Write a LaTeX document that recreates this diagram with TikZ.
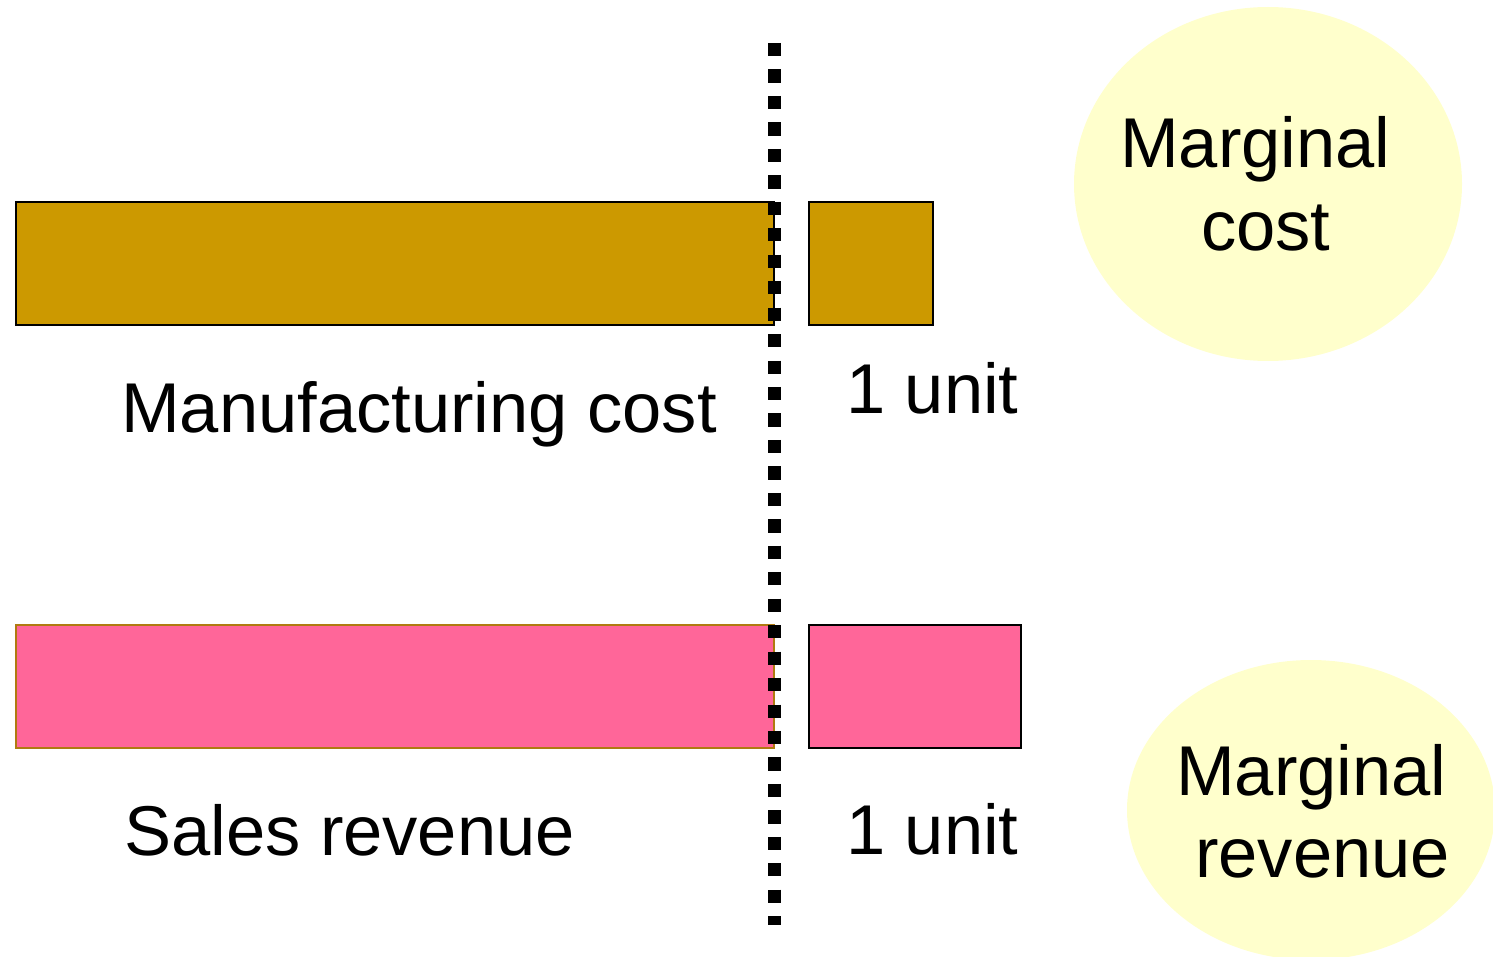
\documentclass[tikz,border=0pt]{standalone}
\usepackage{fontspec}
\setmainfont{Liberation Sans}
\definecolor{gold}{HTML}{CC9900}
\definecolor{pinkbar}{HTML}{FF6699}
\definecolor{pinkedge}{HTML}{B07A10}
\definecolor{pale}{HTML}{FFFFCC}
\begin{document}
\begin{tikzpicture}[x=1pt,y=-1pt,
  lbl/.style={anchor=base west,inner sep=0pt,font=\fontsize{70.5}{83}\selectfont},
  bubble/.style={fill=pale,draw=none},
  goldbox/.style={fill=gold,draw=black,line width=2pt},
  pinkbox/.style={fill=pinkbar,draw=black,line width=2pt},
  dotline/.style={line width=13pt,dash pattern=on 13.23pt off 13.23pt}]
\useasboundingbox (0,0) rectangle (1493,957);
% ellipses
\fill[bubble] (1268,184) ellipse [x radius=194, y radius=177];
\fill[bubble] (1311,810) ellipse [x radius=184, y radius=150];
% bars
\draw[goldbox] (16,202) rectangle (774,325);
\draw[goldbox] (809,202) rectangle (933,325);
\draw[fill=pinkbar,draw=pinkedge,line width=1.5pt] (16,625) rectangle (774,748);
\draw[pinkbox] (809,625) rectangle (1021,748);
% dotted line
\coordinate (dtop) at (774,43);
\coordinate (dbot) at (774,925);
\draw[dotline] (dtop) -- (dbot);
% labels
\node[lbl] (mfg) at (121,432) {Manufacturing cost};
\node[lbl] (u1) at (846,413) {1 unit};
\node[lbl] (sales) at (124,855) {Sales revenue};
\node[lbl] (u2) at (846,854) {1 unit};
\node[lbl] (mc1) at (1120,168) {Marginal};
\node[lbl] (mc2) at (1201,251) {cost};
\node[lbl] (mr1) at (1176,795) {Marginal};
\node[lbl] (mr2) at (1195,877) {revenue};
\end{tikzpicture}
\end{document}
